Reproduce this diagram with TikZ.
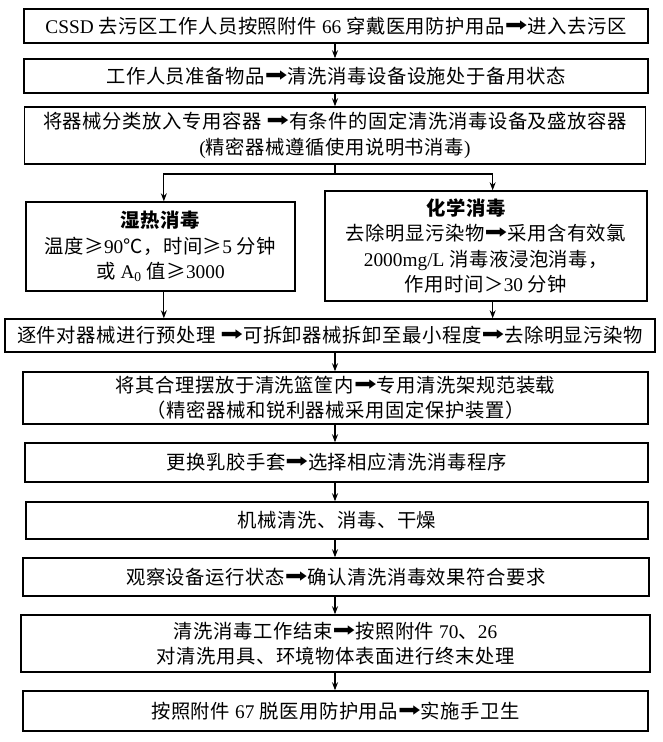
\documentclass[tikz,border=0pt]{standalone}
\usepackage{fontspec}
\setmainfont{Noto Sans CJK SC}[LetterSpace=3]
\newfontfamily\lat{Liberation Serif}
\newfontfamily\symfont{DejaVu Sans}
\usetikzlibrary{arrows.meta}

\newcommand{\en}[1]{{\lat #1}}
\newcommand{\thickarrow}{\raisebox{1.6pt}{\resizebox{17pt}{8pt}{\symfont ➡}}}

\begin{document}
\begin{tikzpicture}[
    x=0.75pt, y=-0.75pt,
    stepbox/.style={draw, line width=1.1pt, inner sep=0pt, align=center,
                    font=\fontsize{14.5pt}{19pt}\selectfont},
    flow/.style={->, line width=0.8pt},
    >={Stealth[length=6pt,width=4.5pt]}
]
\path[use as bounding box, fill=white] (0,0) rectangle (663,742);
\coordinate (axis) at (335,0);

% --- top steps ---
\node[stepbox, minimum width=468pt, minimum height=25.5pt] (enter) at (336,26)
    {\en{CSSD} 去污区工作人员按照附件 \en{66} 穿戴医用防护用品\thickarrow 进入去污区};
\node[stepbox, minimum width=468pt, minimum height=25.5pt] (prep) at (336,76)
    {工作人员准备物品\thickarrow 清洗消毒设备设施处于备用状态};
\node[stepbox, minimum width=465.75pt, minimum height=42.75pt] (sort) at (335,135.5)
    {将器械分类放入专用容器 \thickarrow 有条件的固定清洗消毒设备及盛放容器\\
     \en{(}精密器械遵循使用说明书消毒\en{)}};

% --- two ways ---
\node[stepbox, minimum width=201.75pt, minimum height=66.75pt] (wet) at (160.5,246.5)
    {{\bfseries 湿热消毒}\\
     温度≥\en{90}℃，时间≥\en{5} 分钟\\
     或 \en{A\textsubscript{0}} 值≥\en{3000}};
\node[stepbox, minimum width=241.5pt, minimum height=82.5pt] (chem) at (486,246)
    {{\bfseries 化学消毒}\hspace*{30pt}\\
     去除明显污染物\thickarrow 采用含有效氯\\
     \en{2000mg/L} 消毒液浸泡消毒，\\
     作用时间＞\en{30} 分钟};

% --- later steps ---
\node[stepbox, minimum width=487.5pt, minimum height=24.75pt] (pre) at (330,335.5)
    {逐件对器械进行预处理 \thickarrow 可拆卸器械拆卸至最小程度\thickarrow 去除明显污染物};
\node[stepbox, minimum width=468.75pt, minimum height=39pt] (load) at (335.5,398)
    {将其合理摆放于清洗篮筐内\thickarrow 专用清洗架规范装载\\
     （精密器械和锐利器械采用固定保护装置）};
\node[stepbox, minimum width=467.25pt, minimum height=29.25pt] (glove) at (336.5,462.5)
    {更换乳胶手套\thickarrow 选择相应清洗消毒程序};
\node[stepbox, minimum width=466.5pt, minimum height=27.75pt] (wash) at (337,520.5)
    {机械清洗、消毒、干燥};
\node[stepbox, minimum width=469.5pt, minimum height=28.5pt] (check) at (336,577)
    {观察设备运行状态\thickarrow 确认清洗消毒效果符合要求};
\node[stepbox, minimum width=471.75pt, minimum height=42.75pt] (finish) at (335.5,643.5)
    {清洗消毒工作结束\thickarrow 按照附件 \en{70}、\en{26}\\
     对清洗用具、环境物体表面进行终末处理};
\node[stepbox, minimum width=468.75pt, minimum height=30pt] (doff) at (335.5,711)
    {按照附件 \en{67} 脱医用防护用品\thickarrow 实施手卫生};

% --- connectors ---
\draw[flow] (enter.south -| axis) -- (prep.north -| axis);
\draw[flow] (prep.south -| axis) -- (sort.north -| axis);

\coordinate (split) at (335,174);
\draw[line width=0.8pt] (sort.south -| axis) -- (split);
\draw[flow] (split) -| ([xshift=2.5pt]wet.north);
\draw[flow] (split) -| ([xshift=5pt]chem.north);
\draw[flow] ([xshift=2.5pt]wet.south) -- ([xshift=2.5pt]wet.south |- pre.north);
\draw[flow] ([xshift=5pt]chem.south) -- ([xshift=5pt]chem.south |- pre.north);

\draw[flow] (pre.south -| axis) -- (load.north -| axis);
\draw[flow] (load.south -| axis) -- (glove.north -| axis);
\draw[flow] (glove.south -| axis) -- (wash.north -| axis);
\draw[flow] (wash.south -| axis) -- (check.north -| axis);
\draw[flow] (check.south -| axis) -- (finish.north -| axis);
\draw[flow] (finish.south -| axis) -- (doff.north -| axis);

\end{tikzpicture}
\end{document}
